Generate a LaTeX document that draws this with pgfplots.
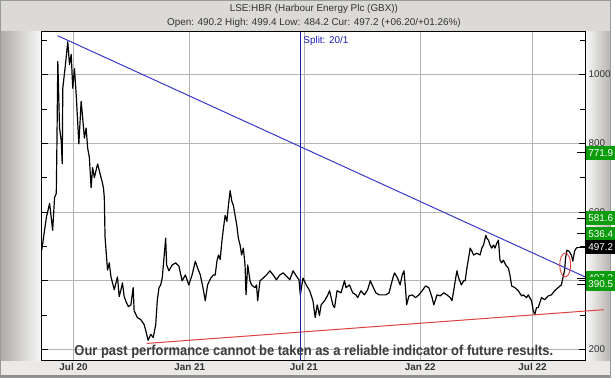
\documentclass[border=0pt]{standalone}
\usepackage{pgfplots}
\pgfplotsset{compat=1.18}
\usepackage{pgfplotstable}
\usepackage{fontspec}
\setmainfont{Liberation Sans}
\usepackage{graphicx}

\definecolor{bg}{HTML}{DCDAD6}
\definecolor{gridc}{HTML}{B4B4B4}
\definecolor{trendblue}{HTML}{3838C8}
\definecolor{splitblue}{HTML}{1E1EB4}
\definecolor{trendred}{HTML}{E04040}
\definecolor{boxgreen}{HTML}{0C9C0C}
\definecolor{txt}{HTML}{333333}
\definecolor{dis}{HTML}{3C3C3C}

\pgfplotstableread{
m v
4.34 489
4.58 584
4.75 625
4.91 547
5.01 642
5.10 654
5.13 786
5.18 1038
5.27 844
5.36 807
5.41 740
5.44 960
5.58 1029
5.70 1095
5.79 1029
5.88 1058
5.96 960
6.05 1017
6.14 942
6.28 798
6.40 922
6.48 873
6.57 815
6.66 844
6.74 786
6.83 758
6.92 671
7.00 729
7.09 700
7.26 740
7.35 720
7.44 700
7.52 683
7.57 668
7.61 642
7.65 527
7.70 489
7.78 431
7.87 452
7.96 411
8.04 394
8.13 374
8.22 394
8.30 411
8.39 354
8.48 374
8.56 394
8.65 354
8.77 336
8.87 325
9.00 330
9.12 380
9.17 313
9.34 293
9.52 287
9.69 273
9.78 255
9.90 227
10.04 244
10.17 235
10.30 273
10.38 342
10.47 380
10.56 388
10.64 408
10.73 466
10.82 524
10.87 446
10.99 429
11.16 446
11.34 452
11.51 443
11.68 400
11.85 417
12.03 388
12.20 417
12.37 457
12.49 437
12.63 417
12.77 380
12.89 342
13.01 388
13.18 408
13.32 417
13.41 417
13.50 457
13.58 475
13.67 462
13.76 515
13.84 553
13.93 590
14.02 573
14.10 619
14.19 662
14.28 631
14.36 619
14.45 590
14.54 561
14.62 524
14.71 504
14.79 475
14.88 495
14.97 446
15.02 359
15.11 446
15.23 400
15.31 388
15.49 380
15.57 388
15.63 342
15.75 400
15.92 408
16.09 417
16.27 429
16.44 417
16.61 403
16.79 417
16.96 423
17.13 414
17.31 403
17.48 429
17.65 414
17.79 403
17.86 359
18.00 408
18.17 388
18.35 371
18.52 342
18.64 293
18.74 330
18.78 322
18.86 299
18.95 330
19.13 342
19.30 359
19.39 371
19.56 330
19.65 322
19.78 371
19.99 365
20.17 400
20.25 380
20.43 388
20.60 365
20.77 359
20.86 351
21.03 371
21.21 359
21.38 374
21.52 400
21.64 385
21.81 365
21.98 359
22.16 359
22.33 359
22.50 365
22.59 385
22.73 414
22.79 423
22.94 408
23.08 388
23.19 417
23.28 429
23.37 371
23.42 330
23.54 356
23.71 359
23.89 351
24.06 359
24.23 371
24.41 385
24.58 380
24.75 351
24.84 330
25.01 359
25.18 356
25.36 365
25.53 359
25.70 351
25.79 342
25.88 371
25.96 400
26.05 429
26.14 408
26.28 388
26.40 400
26.48 400
26.57 437
26.66 466
26.74 495
26.83 486
26.92 475
27.09 480
27.26 475
27.35 495
27.44 504
27.56 532
27.61 524
27.70 518
27.78 504
27.87 495
27.96 504
28.04 495
28.13 509
28.22 518
28.30 460
28.39 452
28.48 460
28.60 446
28.74 437
28.82 417
28.91 385
29.08 380
29.26 371
29.43 356
29.52 359
29.69 351
29.78 359
29.86 351
29.95 342
30.04 313
30.12 302
30.21 322
30.30 322
30.47 351
30.64 345
30.82 356
30.99 359
31.16 371
31.34 380
31.51 388
31.59 408
31.68 431
31.73 466
31.80 489
31.91 486
32.03 475
32.11 457
32.20 486
32.29 495
32.37 497.2
}\price

\begin{document}
\begin{tikzpicture}
\begin{scope}[x=1bp,y=1bp]
\useasboundingbox (0,0) rectangle (615,381);
\fill[bg] (0,0) rectangle (615,381);
\shade[left color=black!22!bg, right color=white!85!bg] (0,18) rectangle (42,349);
\shade[left color=white!85!bg, right color=black!18!bg] (589,18) rectangle (615,349);
\fill[white!40!bg] (0,3) rectangle (615,18);
\fill[black!35!bg] (0,0) rectangle (615,3);
\draw[black!40, line width=1bp] (0.5,0.5) rectangle (614.5,380.5);
\node[font=\fontsize{10}{12}\selectfont, text=txt] at (316,371.5) {LSE:HBR (Harbour Energy Plc (GBX))};
\node[font=\fontsize{10}{12}\selectfont, text=txt] at (316,357.5) {Open: 490.2 High: 499.4 Low: 484.2 Cur: 497.2 (+06.20/+01.26\%)};
\end{scope}
\begin{axis}[
  at={(42bp,18bp)}, anchor=south west, scale only axis,
  width=547bp, height=331bp,
  xmin=4.338, xmax=32.75, ymin=168, ymax=1124,
  clip=false,
  axis background/.style={fill=white},
  axis line style={black, line width=0.8bp},
  xtick={6,12.08,18.05,24.13,30},
  xticklabels={Jul 20,Jan 21,Jul 21,Jan 22,Jul 22},
  xmajorgrids, ymajorgrids,
  grid style={gridc, line width=0.8bp},
  xtick style={draw=none},
  ytick={200,400,600,800,1000},
  minor ytick={300,500,700,900,1100},
  ytick pos=both, yticklabel pos=right,
  tick align=inside,
  major tick length=6bp, minor tick length=5bp,
  ytick style={black, line width=0.6bp},
  /pgf/number format/assume math mode=true,
  /pgf/number format/1000 sep={},
  ticklabel style={font=\fontsize{10}{12}\selectfont, text=txt},
  xticklabel shift=0.5bp,
  xticklabel style={anchor=north, inner sep=2bp, font=\fontsize{10}{12}\selectfont\bfseries},
]
\addplot[black, line width=1.2bp, line join=round] table[x=m, y=v] {\price};
\addplot[trendblue, line width=1bp] coordinates {(5.17,1112.6) (32.75,411.3)};
\addplot[trendred, line width=1bp] coordinates {(9.84,217.9) (33.74,316)};
\addplot[splitblue, line width=1.2bp] coordinates {(17.86,168) (17.86,1124)};
\node[anchor=west, text=splitblue, font=\fontsize{10}{12}\selectfont, inner sep=0pt] at (axis cs:17.86,1098) {\hspace{3bp}Split: 20/1};
\draw[trendred, line width=0.9bp] (axis cs:31.71,446) ellipse [x radius=5.5bp, y radius=12bp];
\coordinate (r771) at (axis cs:32.75,771.9);
\coordinate (r581) at (axis cs:32.75,581.6);
\coordinate (r536) at (axis cs:32.75,536.4);
\coordinate (r497) at (axis cs:32.75,497.2);
\coordinate (r407) at (axis cs:32.75,407.2);
\coordinate (r390) at (axis cs:32.75,390.5);
\end{axis}
\begin{scope}[x=1bp,y=1bp, box/.style={fill=boxgreen, text=white, anchor=west, inner xsep=2bp, inner ysep=0pt, minimum height=14bp, font=\fontsize{10}{12}\selectfont}]
\foreach \c in {r771,r581,r536,r497,r407,r390}{
  \draw[black, line width=0.8bp] ([xshift=-8bp]\c) -- (\c);
}
\node[box] at ([xshift=1bp]r771) {771.9};
\node[box] at ([xshift=1bp]r581) {581.6};
\node[box] at ([xshift=1bp]r536) {536.4};
\node[box] at ([xshift=1bp]r407) {407.2};
\node[box] at ([xshift=1bp]r390) {390.5};
\node[box, fill=black] at ([xshift=1bp]r497) {497.2};
\node[text=dis, font=\fontsize{14.5}{16}\selectfont\bfseries] at (316,27) {\resizebox{482bp}{\height}{Our past performance cannot be taken as a reliable indicator of future results.}};
\end{scope}
\end{tikzpicture}
\end{document}
